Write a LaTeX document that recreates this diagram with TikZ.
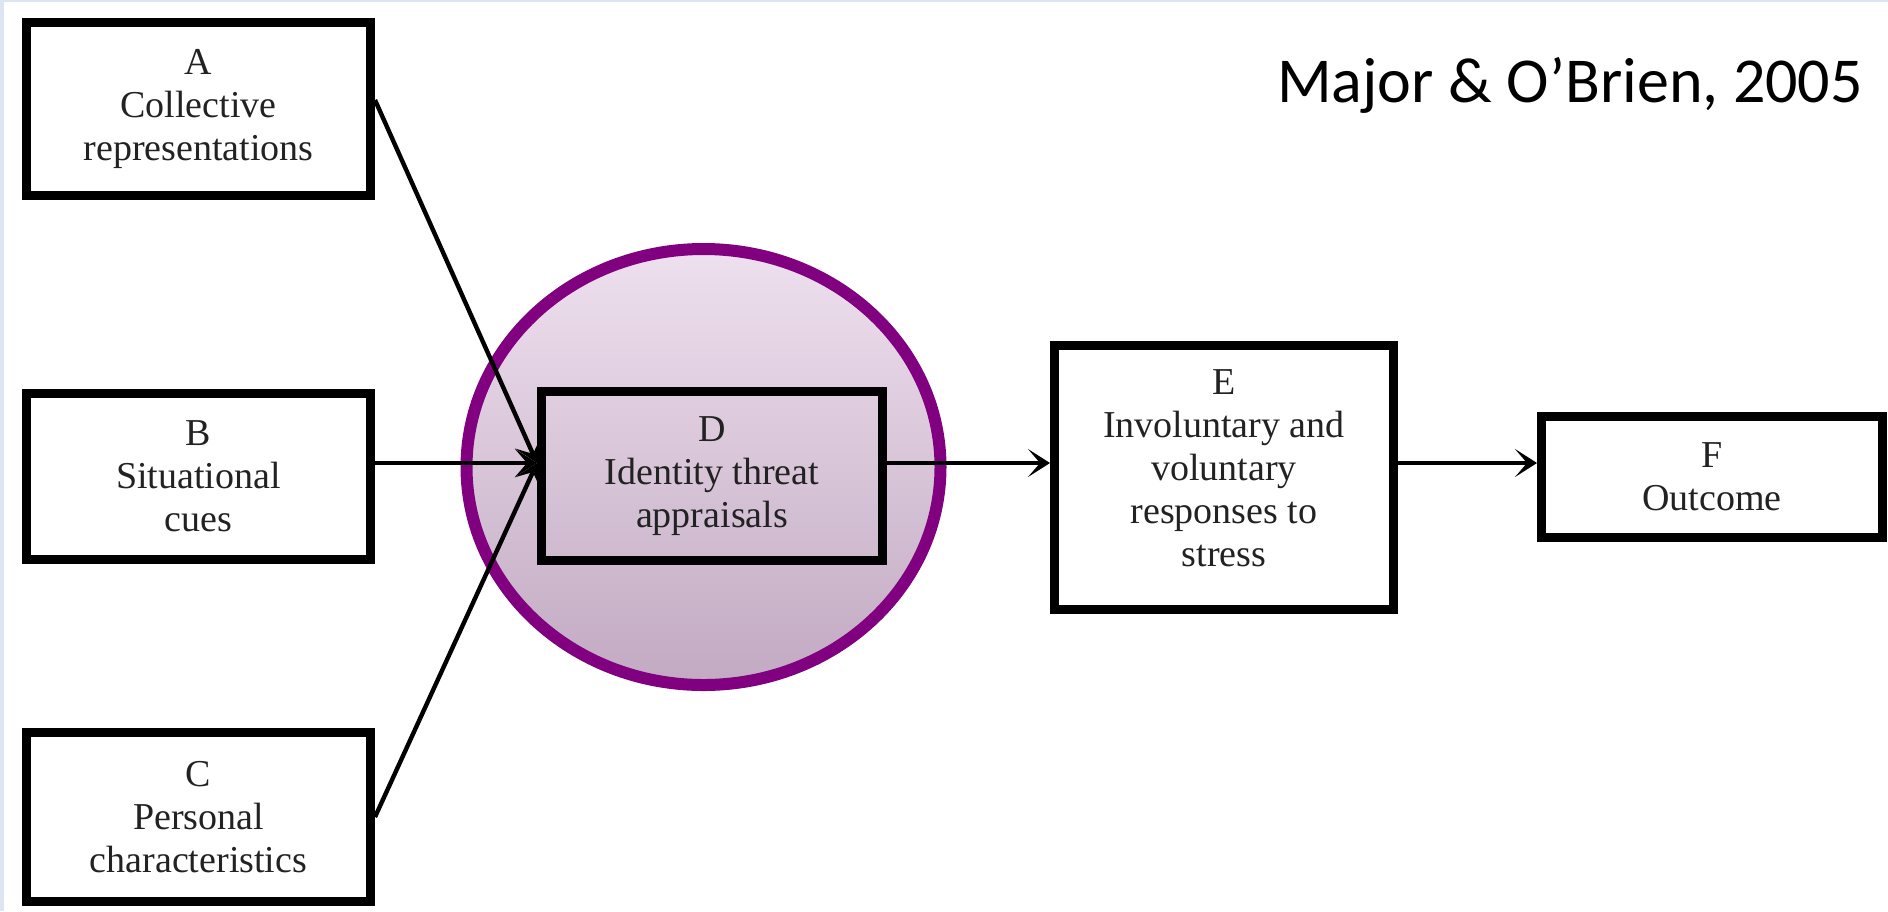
\documentclass[tikz,border=0pt]{standalone}
\usepackage{fontspec}
\setmainfont{Liberation Serif}
\newfontfamily\citefont{Carlito}
\usetikzlibrary{arrows.meta}

\definecolor{ringpurple}{HTML}{800080}
\definecolor{shadetop}{HTML}{EEE0EE}
\definecolor{shadebot}{HTML}{C2AAC2}
\definecolor{edgeblue}{HTML}{DCE6F2}
\definecolor{labelgray}{HTML}{222222}

\begin{document}
\begin{tikzpicture}[x=0.5pt,y=-0.5pt,
  stagetext/.style={align=center, inner sep=0pt,
    font=\fontsize{19}{21.5}\selectfont, text=labelgray},
  stage/.style={stagetext, draw=black, line width=4.5pt},
  link/.style={line width=2.2pt, -{Stealth[length=11pt,width=14pt,inset=6pt]}}]

% page and its thin tinted edges
\useasboundingbox (0,0) rectangle (1888,911);
\fill[white] (0,0) rectangle (1888,911);
\fill[edgeblue] (0,0) rectangle (4,911);
\fill[edgeblue] (0,0) rectangle (1888,2);

% highlighted ring round the appraisal stage
\path[draw=ringpurple, line width=6pt, top color=shadetop, bottom color=shadebot]
  (703.5,467) ellipse [x radius=237, y radius=218];

% stages
\node[stage, minimum width=172pt, minimum height=86.5pt] (A) at (198.5,109)
  {A\\Collective\\representations};
\node[stage, minimum width=172pt, minimum height=83pt] (B) at (198.5,476.5)
  {B\\Situational\\cues};
\node[stage, minimum width=172pt, minimum height=84.5pt] (C) at (198.5,817)
  {C\\Personal\\characteristics};
\node[stage, minimum width=170.5pt, minimum height=84.5pt] (D) at (712,476)
  {D\\Identity threat\\appraisals};
\node[stage, minimum width=169.5pt, minimum height=132pt] (E) at (1224,477.5) {};
\node[stagetext] (Etext) at ([yshift=4.5pt]E.center)
  {E\\Involuntary and\\voluntary\\responses to\\stress};
\node[stage, minimum width=170.5pt, minimum height=60.5pt] (F) at (1712,477)
  {F\\Outcome};

% citation
\node[font=\citefont\fontsize{32}{36}\selectfont, anchor=base] (cite) at (1570,102)
  {Major \& O’Brien, 2005};

% connectors
\coordinate (Din) at ([yshift=6.5pt]D.west);
\coordinate (Dout) at ([yshift=6.5pt]D.east);
\draw[link] ([yshift=4.5pt]A.east) -- (Din);
\draw[link] (B.east |- Din) -- (Din);
\draw[link] (C.east) -- (Din);
\draw[link] (Dout) -- (Dout -| E.west);
\draw[link] (Dout -| E.east) -- (Dout -| F.west);
\end{tikzpicture}
\end{document}
